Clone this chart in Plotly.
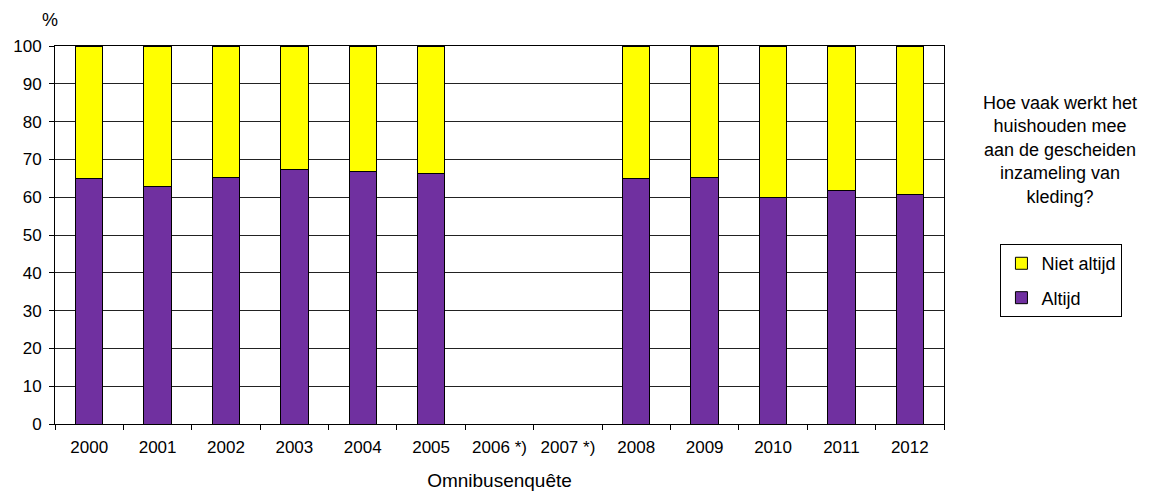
import plotly.graph_objects as go

categories = ["2000", "2001", "2002", "2003", "2004", "2005", "2006 *)", "2007 *)",
              "2008", "2009", "2010", "2011", "2012"]
altijd = [65.0, 62.7, 65.3, 67.3, 66.7, 66.4, None, None, 65.0, 65.3, 59.8, 61.7, 60.8]
niet_altijd = [None if a is None else round(100 - a, 1) for a in altijd]

FONT = "Liberation Sans, Arial, sans-serif"

fig = go.Figure()
fig.add_trace(go.Bar(x=categories, y=altijd, name="Altijd", legendgroup="a",
                     legendrank=2,
                     marker=dict(color="#7030A0", line=dict(color="black", width=1)),
                     width=0.4))
fig.add_trace(go.Bar(x=categories, y=niet_altijd, name="Niet altijd", legendgroup="b",
                     legendrank=1,
                     marker=dict(color="#FFFF00", line=dict(color="black", width=1)),
                     width=0.4))

fig.update_layout(
    width=1149, height=489,
    margin=dict(l=47, r=213, t=38, b=73),
    barmode="stack",
    plot_bgcolor="white", paper_bgcolor="white",
    font=dict(family=FONT, size=17, color="black"),
    showlegend=True,
    legend=dict(x=1.0635, y=0.476, xanchor="left", yanchor="top",
                traceorder="grouped", tracegroupgap=8,
                bordercolor="black", borderwidth=1,
                bgcolor="white", font=dict(size=18), itemwidth=30),
    xaxis=dict(type="category", tickson="boundaries", ticks="outside", ticklen=5,
               tickcolor="black", showline=True, linecolor="black", mirror=True,
               showgrid=False, tickfont=dict(size=17), ticklabelstandoff=8,
               automargin=False,
               title=dict(text="Omnibusenquête", standoff=17, font=dict(size=19))),
    yaxis=dict(range=[0, 100], dtick=10, ticks="outside", ticklen=5, tickcolor="black",
               showline=True, linecolor="black", mirror=True, tickfont=dict(size=17),
               ticklabelstandoff=4, automargin=False,
               showgrid=True, gridcolor="#222", gridwidth=1, zeroline=False),
)

fig.add_annotation(x=-0.006, y=1.0, xref="paper", yref="paper", yshift=26,
                   text="%", showarrow=False, xanchor="center", yanchor="middle",
                   font=dict(size=18))
fig.add_annotation(x=1.1305, y=0.725, xref="paper", yref="paper",
                   text="Hoe vaak werkt het<br>huishouden mee<br>aan de gescheiden<br>inzameling van<br>kleding?",
                   showarrow=False, xanchor="center", yanchor="middle", align="center",
                   font=dict(size=18))

fig.write_html("out.html")
